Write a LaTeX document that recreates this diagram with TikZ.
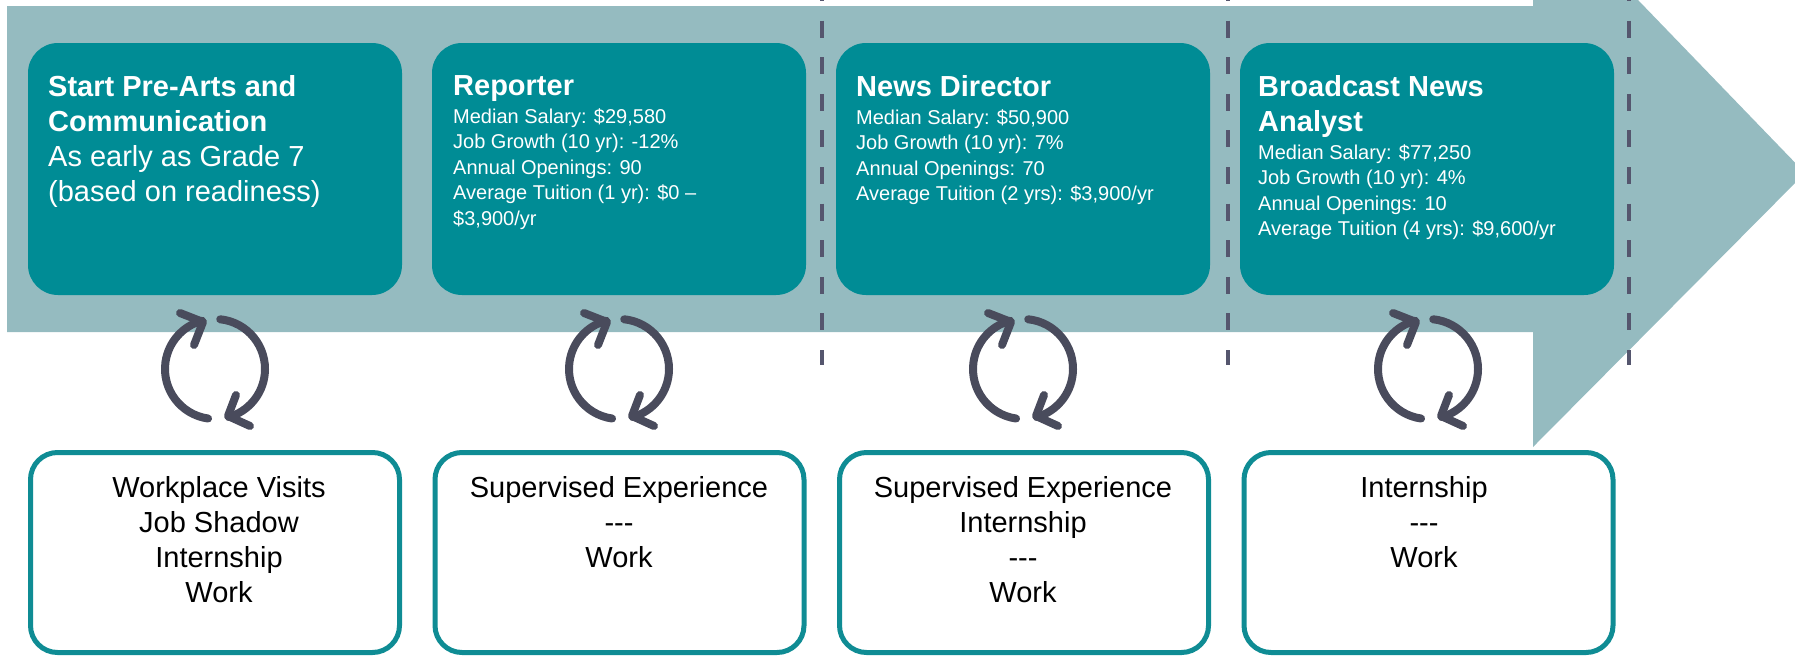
\documentclass[tikz,border=0pt]{standalone}
\usepackage{fontspec}
\setmainfont{Liberation Sans}
\definecolor{arrowband}{HTML}{95BBC0}
\definecolor{tealbox}{HTML}{008C95}
\definecolor{tealline}{HTML}{0F8C94}
\definecolor{slateicon}{HTML}{494B5C}
\definecolor{dashcol}{HTML}{55566E}
\newcommand{\hd}{\fontsize{29}{35}\selectfont}
\newcommand{\sm}{\fontsize{20}{25.5}\selectfont}
\tikzset{
  x=1pt,y=-1pt,
  topbox/.style={fill=tealbox,rounded corners=30pt,minimum width=374pt,minimum height=252pt,anchor=north west,inner sep=0pt,outer sep=0pt},
  botbox/.style={draw=tealline,line width=5pt,fill=white,rounded corners=27pt,minimum width=369pt,minimum height=200pt,anchor=north west,inner sep=0pt,outer sep=0pt},
  toptext/.style={white,anchor=north west,align=flush left,inner sep=0pt,text width=345pt},
  bottext/.style={black,anchor=north,align=center,inner sep=0pt,font=\fontsize{29}{35}\selectfont},
  divider/.style={draw=dashcol,line width=3.6pt,dash pattern=on 17pt off 19.6pt},
  cycleline/.style={draw=slateicon,line width=8pt,line cap=round,line join=round},
  cycle/.pic={
    \draw[cycleline] (84:50pt) arc[start angle=84,end angle=-74,radius=50pt];
    \draw[cycleline] (262:50pt) arc[start angle=262,end angle=105,radius=50pt];
    \draw[cycleline] (-35pt,56pt) -- (-12pt,47pt) -- (-21pt,24pt);
    \draw[cycleline] (35pt,-57pt) -- (13pt,-47pt) -- (21pt,-26pt);
  }
}
\begin{document}
\begin{tikzpicture}
\useasboundingbox (0,0) rectangle (1795,656);
\clip (0,0) rectangle (1795,656);
% band arrow
\fill[arrowband] (7,6) -- (1533,6) -- (1533,0) -- (1638,0) -- (1805,173) -- (1533,447) -- (1533,332) -- (7,332) -- cycle;
% dividers
\coordinate (d1a) at (822,-16); \coordinate (d1b) at (822,365);
\coordinate (d2a) at (1228,-16); \coordinate (d2b) at (1228,365);
\coordinate (d3a) at (1629,-16); \coordinate (d3b) at (1629,365);
\draw[divider] (d1a) -- (d1b);
\draw[divider] (d2a) -- (d2b);
\draw[divider] (d3a) -- (d3b);
% top boxes
\node[topbox] (t1) at (28,43) {};
\node[topbox] (t2) at (432,43) {};
\node[topbox] (t3) at (836,43) {};
\node[topbox] (t4) at (1240,43) {};
\node[toptext] (tt1) at (48,75) {\hd\textbf{Start Pre-Arts and}\\\textbf{Communication}\\As early as Grade 7\\(based on readiness)\par};
\node[toptext] (tt2) at (453,75) {\hd\textbf{Reporter}\par\vspace{2.5pt}\sm Median Salary: \$29,580\\Job Growth (10 yr): -12\%\\Annual Openings: 90\\Average Tuition (1 yr): \$0 –\\\$3,900/yr\par};
\node[toptext] (tt3) at (856,75) {\hd\textbf{News Director}\par\vspace{2.5pt}\sm Median Salary: \$50,900\\Job Growth (10 yr): 7\%\\Annual Openings: 70\\Average Tuition (2 yrs): \$3,900/yr\par};
\node[toptext] (tt4) at (1258,75) {\hd\textbf{Broadcast News}\\\textbf{Analyst}\par\vspace{2.5pt}\sm Median Salary: \$77,250\\Job Growth (10 yr): 4\%\\Annual Openings: 10\\Average Tuition (4 yrs): \$9,600/yr\par};
% cycle icons
\pic at (215,369) {cycle};
\pic at (619,369) {cycle};
\pic at (1023,369) {cycle};
\pic at (1428,369) {cycle};
% bottom boxes
\node[botbox] (b1) at (30.5,452.5) {};
\node[botbox] (b2) at (435,452.5) {};
\node[botbox] (b3) at (839.5,452.5) {};
\node[botbox] (b4) at (1244,452.5) {};
\node[bottext] (bt1) at (219,476) {Workplace Visits\\Job Shadow\\Internship\\Work};
\node[bottext] (bt2) at (619,476) {Supervised Experience\\-{}-{}-\\Work};
\node[bottext] (bt3) at (1023,476) {Supervised Experience\\Internship\\-{}-{}-\\Work};
\node[bottext] (bt4) at (1424,476) {Internship\\-{}-{}-\\Work};
\end{tikzpicture}
\end{document}
